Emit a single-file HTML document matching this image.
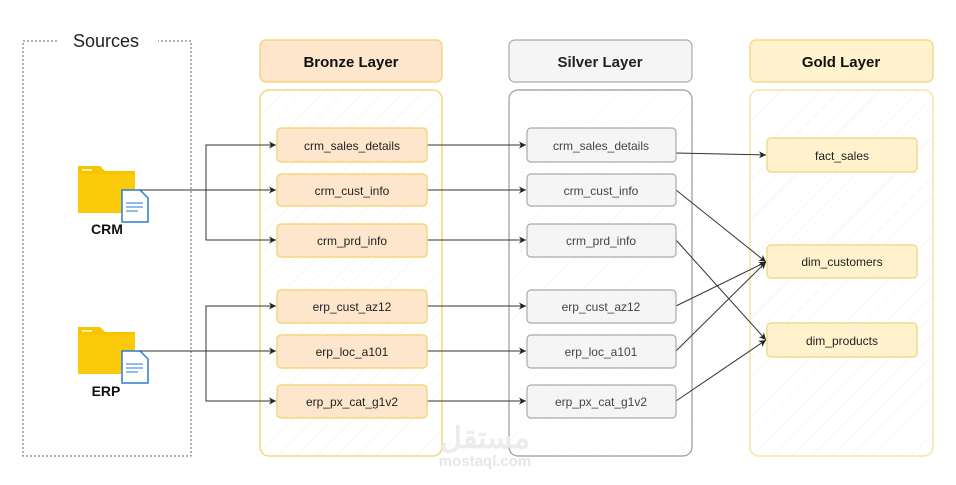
<!DOCTYPE html>
<html><head><style>
body{margin:0;background:#fff;width:956px;height:480px;overflow:hidden}
svg text{font-family:"Liberation Sans",Arial,sans-serif}
</style></head><body>
<svg width="956" height="480" viewBox="0 0 956 480" xmlns="http://www.w3.org/2000/svg">
<defs>
<marker id="a" markerWidth="8" markerHeight="8" refX="7" refY="4" orient="auto" markerUnits="userSpaceOnUse">
<path d="M0,0.5 L7,4 L0,7.5 L2,4z" fill="#222"/></marker>
<pattern id="h" width="14" height="14" patternUnits="userSpaceOnUse" patternTransform="rotate(45)">
<line x1="0" y1="0" x2="0" y2="14" stroke="#f6efe0" stroke-width="1"/></pattern>
<pattern id="hs" width="14" height="14" patternUnits="userSpaceOnUse" patternTransform="rotate(45)">
<line x1="0" y1="0" x2="0" y2="14" stroke="#f3f3f3" stroke-width="1"/></pattern>
</defs>
<!-- Sources -->
<path d="M57,41 H23 V456 H191 V41 H158" fill="none" stroke="#666" stroke-dasharray="2,2"/>
<text x="106" y="47" font-size="18" text-anchor="middle" fill="#222">Sources</text>
<!-- headers -->
<rect x="260" y="40" width="182" height="42" rx="6" fill="#fde6cc" stroke="#f5d57e" stroke-width="1.5"/>
<text x="351" y="67" font-size="15" font-weight="bold" text-anchor="middle" fill="#111">Bronze Layer</text>
<rect x="509" y="40" width="183" height="42" rx="6" fill="#f5f5f5" stroke="#aaa" stroke-width="1.2"/>
<text x="600" y="67" font-size="15" font-weight="bold" text-anchor="middle" fill="#222">Silver Layer</text>
<rect x="750" y="40" width="183" height="42" rx="6" fill="#fff2cc" stroke="#f2da8e" stroke-width="1.5"/>
<text x="841" y="67" font-size="15" font-weight="bold" text-anchor="middle" fill="#111">Gold Layer</text>
<!-- containers -->
<rect x="260" y="90" width="182" height="366" rx="9" fill="url(#h)" stroke="#f5d57e" stroke-width="1.5"/>
<rect x="509" y="90" width="183" height="366" rx="9" fill="url(#hs)" stroke="#999" stroke-width="1.2"/>
<rect x="750" y="90" width="183" height="366" rx="9" fill="url(#h)" stroke="#f7e4a8" stroke-width="1.5"/>
<!-- folders -->
<g>
<path d="M78,166 h22 l5,5 h30 v42 h-57z" fill="#f7c500"/><rect x="78" y="174" width="57" height="39" fill="#fcca0a"/>
<rect x="82" y="169" width="10" height="2" fill="#fff2a8"/>
<path d="M122,190 h18 l8,8 v24 h-26z" fill="#fff" stroke="#2a7fd4" stroke-width="1.5"/>
<line x1="126" y1="203" x2="143" y2="203" stroke="#6aa6e0" stroke-width="1.5"/><line x1="126" y1="207" x2="143" y2="207" stroke="#6aa6e0" stroke-width="1.5"/><line x1="126" y1="211" x2="138" y2="211" stroke="#6aa6e0" stroke-width="1.5"/>
<text x="107" y="234" font-size="14" font-weight="bold" text-anchor="middle" fill="#111">CRM</text>
</g>
<g transform="translate(0,161)">
<path d="M78,166 h22 l5,5 h30 v42 h-57z" fill="#f7c500"/><rect x="78" y="174" width="57" height="39" fill="#fcca0a"/>
<rect x="82" y="169" width="10" height="2" fill="#fff2a8"/>
<path d="M122,190 h18 l8,8 v24 h-26z" fill="#fff" stroke="#2a7fd4" stroke-width="1.5"/>
<line x1="126" y1="203" x2="143" y2="203" stroke="#6aa6e0" stroke-width="1.5"/><line x1="126" y1="207" x2="143" y2="207" stroke="#6aa6e0" stroke-width="1.5"/><line x1="126" y1="211" x2="138" y2="211" stroke="#6aa6e0" stroke-width="1.5"/>
<text x="106" y="235" font-size="14" font-weight="bold" text-anchor="middle" fill="#111">ERP</text>
</g>
<!-- source connectors -->
<g stroke="#333" stroke-width="1" fill="none">
<line x1="140" y1="190" x2="276" y2="190" marker-end="url(#a)"/>
<path d="M276,145 H206 V240 H276" />
<line x1="270" y1="145" x2="276" y2="145" marker-end="url(#a)"/>
<line x1="270" y1="240" x2="276" y2="240" marker-end="url(#a)"/>
<line x1="140" y1="351" x2="276" y2="351" marker-end="url(#a)"/>
<path d="M276,306 H206 V401 H276"/>
<line x1="270" y1="306" x2="276" y2="306" marker-end="url(#a)"/>
<line x1="270" y1="401" x2="276" y2="401" marker-end="url(#a)"/>
<line x1="427" y1="145" x2="526" y2="145" marker-end="url(#a)"/>
<line x1="427" y1="190" x2="526" y2="190" marker-end="url(#a)"/>
<line x1="427" y1="240" x2="526" y2="240" marker-end="url(#a)"/>
<line x1="427" y1="306" x2="526" y2="306" marker-end="url(#a)"/>
<line x1="427" y1="351" x2="526" y2="351" marker-end="url(#a)"/>
<line x1="427" y1="401" x2="526" y2="401" marker-end="url(#a)"/>
<line x1="676" y1="153" x2="766" y2="155" marker-end="url(#a)"/>
<line x1="676" y1="190" x2="766" y2="262" marker-end="url(#a)"/>
<line x1="676" y1="240" x2="766" y2="340" marker-end="url(#a)"/>
<line x1="676" y1="306" x2="766" y2="262" marker-end="url(#a)"/>
<line x1="676" y1="351" x2="766" y2="262" marker-end="url(#a)"/>
<line x1="676" y1="401" x2="766" y2="340" marker-end="url(#a)"/>
</g>
<g font-size="12" text-anchor="middle" fill="#222">
<g fill="#fde6cc" stroke="#f5d57e" stroke-width="1.5">
<rect x="277" y="128" width="150" height="34" rx="4"/><rect x="277" y="174" width="150" height="32" rx="4"/><rect x="277" y="224" width="150" height="33" rx="4"/>
<rect x="277" y="290" width="150" height="33" rx="4"/><rect x="277" y="335" width="150" height="33" rx="4"/><rect x="277" y="385" width="150" height="33" rx="4"/>
</g>
<text x="352" y="150">crm_sales_details</text><text x="352" y="195">crm_cust_info</text><text x="352" y="245">crm_prd_info</text>
<text x="352" y="311">erp_cust_az12</text><text x="352" y="356">erp_loc_a101</text><text x="352" y="406">erp_px_cat_g1v2</text>
</g>
<g font-size="12" text-anchor="middle" fill="#444">
<g fill="#f5f5f5" stroke="#aaa" stroke-width="1.2">
<rect x="527" y="128" width="149" height="34" rx="4"/><rect x="527" y="174" width="149" height="32" rx="4"/><rect x="527" y="224" width="149" height="33" rx="4"/>
<rect x="527" y="290" width="149" height="33" rx="4"/><rect x="527" y="335" width="149" height="33" rx="4"/><rect x="527" y="385" width="149" height="33" rx="4"/>
</g>
<text x="601" y="150">crm_sales_details</text><text x="601" y="195">crm_cust_info</text><text x="601" y="245">crm_prd_info</text>
<text x="601" y="311">erp_cust_az12</text><text x="601" y="356">erp_loc_a101</text><text x="601" y="406">erp_px_cat_g1v2</text>
</g>
<g font-size="12" text-anchor="middle" fill="#222">
<g fill="#fff2cc" stroke="#f2da8e" stroke-width="1.5">
<rect x="767" y="138" width="150" height="34" rx="4"/><rect x="767" y="245" width="150" height="33" rx="4"/><rect x="767" y="323" width="150" height="34" rx="4"/>
</g>
<text x="842" y="160">fact_sales</text><text x="842" y="266">dim_customers</text><text x="842" y="345">dim_products</text>
</g>
<text x="485" y="448" font-size="30" font-weight="bold" fill="#ececec" text-anchor="middle" font-family="'Noto Sans CJK SC',sans-serif">مستقل</text>
<text x="485" y="466" font-size="15" font-weight="bold" fill="#e6e6e6" text-anchor="middle">mostaql.com</text>
</svg>
</body></html>
